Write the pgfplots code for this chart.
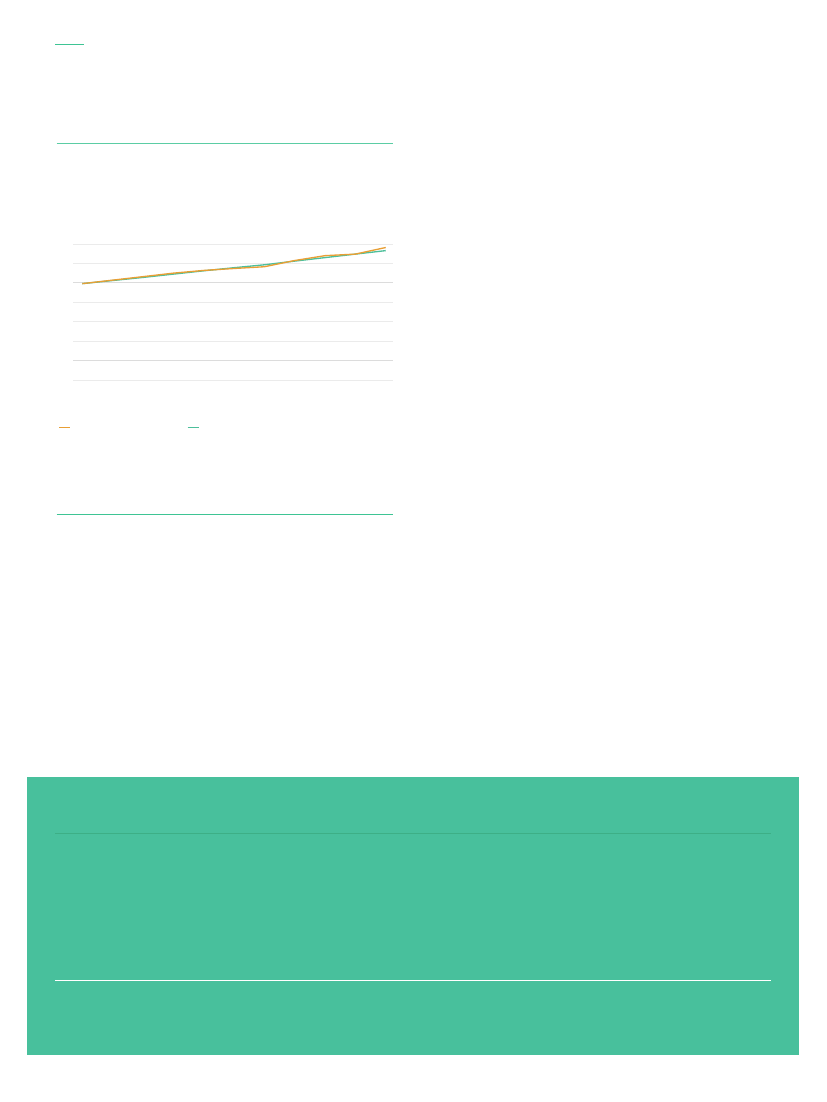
\documentclass[border=0pt]{standalone}
\usepackage{pgfplots}
\pgfplotsset{compat=1.18}

\definecolor{lineorange}{HTML}{E89F35}
\definecolor{linegreen}{HTML}{4DBF9B}
\definecolor{rulegreen}{HTML}{3EC494}
\definecolor{boxgreen}{HTML}{48C09C}
\definecolor{boxrule}{HTML}{3DAF86}
\definecolor{gridlight}{HTML}{EBEBEB}
\definecolor{griddark}{HTML}{DCDCDC}

% one series per table: index, value
\pgfplotstableread{
i v
0 4.96
1 5.14
2 5.32
3 5.50
4 5.64
5 5.74
6 5.83
7 6.15
8 6.40
9 6.48
10 6.82
}\orangedata
\pgfplotstableread{
i v
0 4.96
1 5.12
2 5.28
3 5.45
4 5.62
5 5.78
6 5.93
7 6.12
8 6.30
9 6.48
10 6.66
}\greendata

\begin{document}
\begin{tikzpicture}[x=0.75pt,y=-0.75pt]
% page
\fill[white] (0,0) rectangle (826,1102);

% header rules
\draw[rulegreen, line width=1pt] (55,44.3) -- (84,44.3);
\draw[rulegreen!85!white, line width=0.75pt] (56.5,143.3) -- (392.7,143.3);

% chart
\coordinate (A) at (73,380);
\begin{axis}[
    at={(A)}, anchor=south west,
    scale only axis,
    width=240pt, height=102pt,
    xmin=-0.307, xmax=10.24,
    ymin=0, ymax=7,
    axis line style={draw=none},
    major tick length=0pt,
    xtick=\empty,
    ytick={0,2,3,4,6,7},
    yticklabels={},
    extra y ticks={1,5},
    extra y tick labels={},
    extra y tick style={grid style={griddark, line width=0.75pt}},
    ymajorgrids,
    grid style={gridlight, line width=0.75pt},
    clip=false,
]
\addplot[linegreen, line width=1pt] table[x=i, y=v] {\greendata};
\addplot[lineorange, line width=1pt] table[x=i, y=v] {\orangedata};
\end{axis}

% legend keys
\draw[lineorange, line width=1pt] (59,427.3) -- (70,427.3);
\draw[linegreen, line width=1pt] (187.7,427.3) -- (199,427.3);

% bottom rule under chart
\draw[rulegreen, line width=1pt] (56.5,514.3) -- (392.7,514.3);

% footer box
\fill[boxgreen] (27,777) rectangle (799,1055);
\draw[boxrule, line width=0.75pt] (55,833) -- (771,833);
\draw[white, line width=1pt] (55,980.3) -- (771,980.3);
\end{tikzpicture}
\end{document}
